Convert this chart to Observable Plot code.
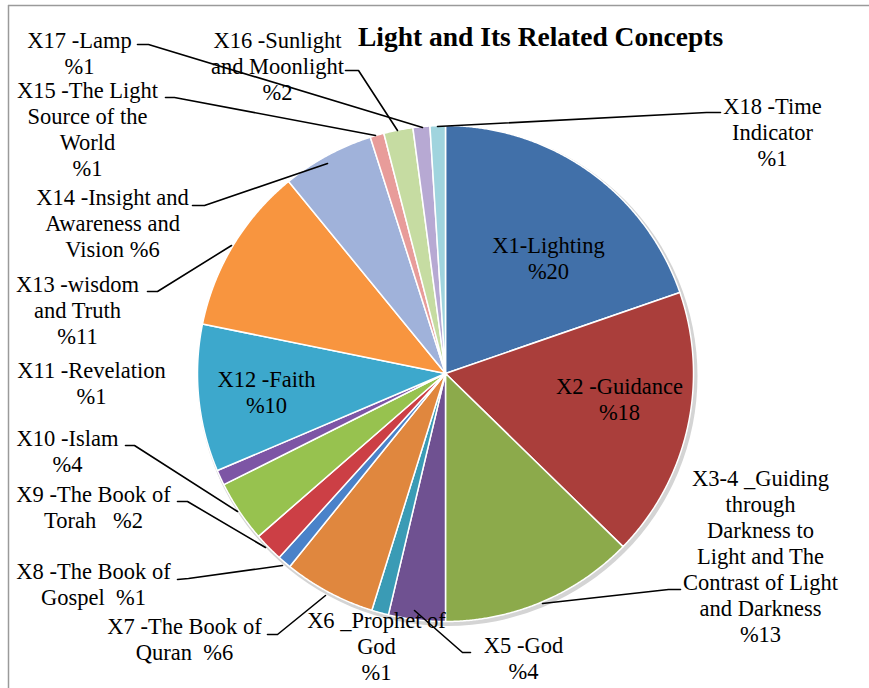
<!DOCTYPE html>
<html><head><meta charset="utf-8">
<script src="https://cdn.jsdelivr.net/npm/d3@7"></script>
<script src="https://cdn.jsdelivr.net/npm/@observablehq/plot@0.6"></script>
<style>body{margin:0;background:#fff} svg{display:block}</style>
</head><body><div id="chart"></div>
<script>
// ---- data ----
const title = "Light and Its Related Concepts";
const categories = ["X1","X2","X3-4","X5","X6","X7","X8","X9","X10","X11","X12","X13","X14","X15","X16","X17","X18"];
const values = [19.7, 17.6, 12.7, 3.7, 1.1, 6.0, 0.9, 1.9, 4.0, 1.0, 9.6, 10.9, 6.0, 0.9, 1.9, 1.1, 1.0];
const labelTexts = [
  "X1-Lighting\n%20",
  "X2 -Guidance\n%18",
  "X3-4 _Guiding\nthrough\nDarkness to\nLight and The\nContrast of Light\nand Darkness\n%13",
  "X5 -God\n%4",
  "X6 _Prophet of\nGod\n%1",
  "X7 -The Book of\nQuran\u00a0 %6",
  "X8 -The Book of\nGospel\u00a0 %1",
  "X9 -The Book of\nTorah\u00a0\u00a0 %2",
  "X10 -Islam\n%4",
  "X11 -Revelation\n%1",
  "X12 -Faith\n%10",
  "X13 -wisdom\nand Truth\n%11",
  "X14 -Insight and\nAwareness and\nVision %6",
  "X15 -The Light\nSource of the\nWorld\n%1",
  "X16 -Sunlight\nand Moonlight\n%2",
  "X17 -Lamp\n%1",
  "X18 -Time\nIndicator\n%1"
];
const colors = ["#4170a9","#aa3e3b","#8caa4b","#6f5191","#3a9bb5","#e0873e","#4a82c9","#cc3f45","#97c24f","#7d55a5","#3da8cc","#f8953f","#a0b2da","#e89c9a","#c6dca2","#b7a9d3","#a0d4de"];

// ---- layout ----
const CX = 445, CY = 373, R = 248, LH = 26;
const labelPos = [[548,252],[619,393],[760,485],[523,652],[376,627],[184,633],[93,578],[93,501],[67,445],[91,377],[266,386],[77,291],[112,204],[87,97],[277,47],[79,47],[772,113]];
const leaders = {
  "X18": [[720,112],[706,112],[437,126]],
  "X17": [[137,44],[148,44],[422,127]],
  "X16": [[345,70],[358,70],[397,130]],
  "X15": [[165,97],[174,97],[375,135]],
  "X14": [[192,205],[204,205],[327,163]],
  "X13": [[147,291],[157,291],[231,245]],
  "X10": [[125,445],[134,445],[237,511]],
  "X9":  [[177,501],[187,501],[265,547]],
  "X8":  [[177,579],[188,578],[282,565]],
  "X7":  [[267,634],[277,634],[325,595]],
  "X5":  [[470,652],[462,652],[414,610]],
  "X3-4":[[680,589],[668,589],[542,603]]
};

// ---- build geometry from data ----
const arcs = d3.pie().sort(null).value(d => d)(values);
const slicePts = [];
arcs.forEach((a, i) => {
  const key = categories[i];
  slicePts.push({key, x: CX, y: CY, c: colors[i]});
  const n = Math.max(4, Math.ceil((a.endAngle - a.startAngle) / 0.005));
  for (let k = 0; k <= n; k++) {
    const t = a.startAngle + (a.endAngle - a.startAngle) * k / n;
    slicePts.push({key, x: CX + R * Math.sin(t), y: CY - R * Math.cos(t), c: colors[i]});
  }
  slicePts.push({key, x: CX, y: CY, c: colors[i]});
});

const lineRecs = [];
labelTexts.forEach((s, i) => {
  s.split("\n").forEach((t, j) => lineRecs.push({x: labelPos[i][0], y: labelPos[i][1] + j * LH, t}));
});
const leaderPts = [];
Object.entries(leaders).forEach(([k, pts]) => pts.forEach(p => leaderPts.push({k, x: p[0], y: p[1]})));

const font = "Liberation Serif";
const chart = Plot.plot({
  width: 869, height: 688, margin: 0,
  x: {domain: [0, 869], range: [0, 869], axis: null},
  y: {domain: [0, 688], range: [0, 688], axis: null},
  color: {type: "identity"},
  style: {background: "white", fontFamily: font},
  marks: [
    Plot.ruleY([5], {x1: 8, x2: 869, stroke: "#9a9a9a", strokeWidth: 1.5}),
    Plot.ruleX([8], {y1: 5, y2: 688, stroke: "#9a9a9a", strokeWidth: 1.5}),
    Plot.dot([0], {x: () => CX + 2, y: () => CY + 2.5, r: R + 2, fill: "#d4d4d4", stroke: "none"}),
    Plot.line(slicePts, {x: "x", y: "y", z: "key", fill: "c", stroke: "white", strokeWidth: 1.5, strokeLinejoin: "round", curve: "linear"}),
    Plot.line(leaderPts, {x: "x", y: "y", z: "k", stroke: "black", strokeWidth: 1.6}),
    Plot.text(lineRecs, {x: "x", y: "y", text: "t", fontFamily: font, fontSize: 22.5, lineAnchor: "bottom", textAnchor: "middle", fill: "black"}),
    Plot.text([title], {x: () => 540, y: () => 45, text: d => d, fontFamily: font, fontSize: 27.5, fontWeight: "bold", lineAnchor: "bottom", textAnchor: "middle", fill: "black"})
  ]
});
document.getElementById("chart").appendChild(chart);
</script>
</body></html>
